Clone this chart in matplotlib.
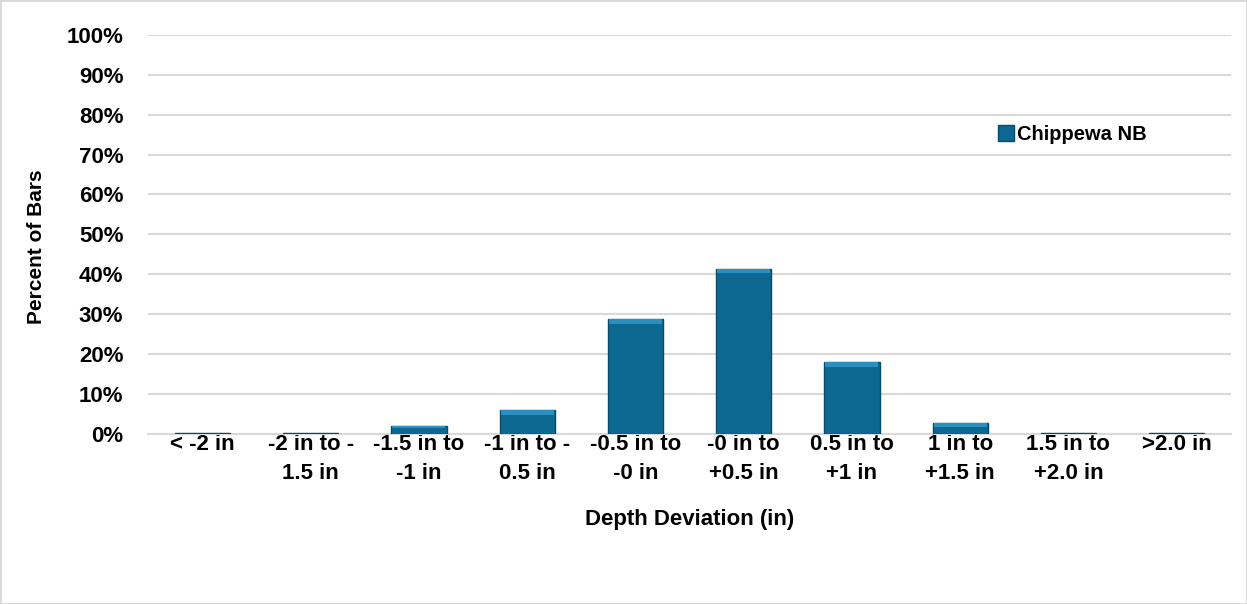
import numpy as np
import matplotlib.pyplot as plt
from matplotlib.ticker import PercentFormatter

plt.rcParams['font.family'] = ['Liberation Sans', 'DejaVu Sans']
plt.rcParams['font.weight'] = 'bold'

# data
categories = ['< -2 in', '-2 in to -\n1.5 in', '-1.5 in to\n-1 in', '-1 in to -\n0.5 in',
              '-0.5 in to\n-0 in', '-0 in to\n+0.5 in', '0.5 in to\n+1 in', '1 in to\n+1.5 in',
              '1.5 in to\n+2.0 in', '>2.0 in']
percent_bars = [0.1, 0.1, 2.0, 6.0, 28.8, 41.4, 18.0, 2.7, 0.1, 0.1]
series_name = 'Chippewa NB'

fig = plt.figure(figsize=(12.47, 6.04), dpi=100)
fig.patch.set_edgecolor('#d9d9d9')
fig.patch.set_linewidth(2)
ax = fig.add_axes([0.119, 0.282, 0.868, 0.660])

x = np.arange(len(categories))
bars = ax.bar(x, percent_bars, width=0.51, color='#0d6891', edgecolor='#0a4a68',
              linewidth=1.0, label=series_name, zorder=3)
# lighter bevel on top of each bar
for b in bars:
    h = b.get_height()
    if h > 0.5:
        bev = min(1.2, h * 0.35)
        ax.bar(b.get_x() + b.get_width() / 2, bev, bottom=h - bev, width=b.get_width() * 0.96,
               color='#2b8fbf', linewidth=0, zorder=4)

ax.set_ylim(0, 100)
ax.set_xlim(-0.5, len(categories) - 0.5)
ax.set_yticks(np.arange(0, 101, 10))
ax.yaxis.set_major_formatter(PercentFormatter(decimals=0))
ax.grid(axis='y', color='#d9d9d9', linewidth=1.5, zorder=0)
ax.set_xticks(x)
ax.set_xticklabels(categories, fontsize=16, fontweight='bold', linespacing=1.5)
ax.tick_params(axis='y', labelsize=16, length=0, pad=18)
ax.tick_params(axis='x', length=0, pad=0)
for s in ['top', 'right', 'left']:
    ax.spines[s].set_visible(False)
ax.spines['bottom'].set_color('#d9d9d9')
ax.spines['bottom'].set_linewidth(1.5)

ax.set_xlabel('Depth Deviation (in)', fontsize=16, fontweight='bold', labelpad=18)
ax.set_ylabel('Percent of Bars', fontsize=15, fontweight='bold')
ax.yaxis.set_label_coords(-0.095, 0.47)

ax.legend(handles=[bars], loc='center left', bbox_to_anchor=(0.768, 0.75), frameon=False,
          fontsize=14.5, handlelength=0.8, handleheight=0.8, handletextpad=0.15)

plt.savefig('out.png', dpi=100)
